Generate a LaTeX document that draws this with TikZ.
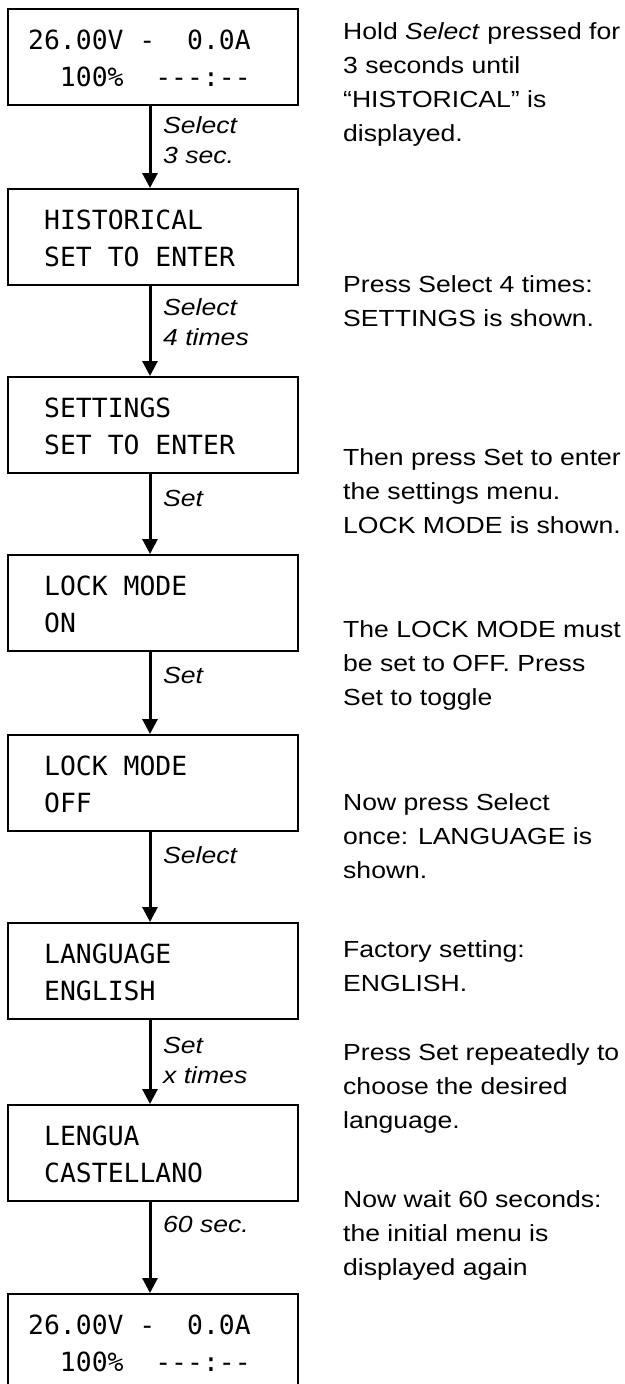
\documentclass[tikz,border=0pt]{standalone}
\usepackage{fontspec}
\setmainfont{Liberation Sans}[FakeStretch=1.14]
\newfontfamily\lcdfont{DejaVu Sans Mono}
\usetikzlibrary{arrows.meta}
\newcommand{\desc}[1]{\parbox[t]{300pt}{\fontsize{23.3}{34}\selectfont\raggedright #1}}
\newcommand{\keytext}[1]{\parbox[t]{130pt}{\itshape\fontsize{23.3}{30}\selectfont\raggedright #1}}
\newcommand{\lcdtext}[1]{\parbox[t]{280pt}{\lcdfont\fontsize{26.4}{37}\selectfont\raggedright #1}}
\begin{document}
\begin{tikzpicture}[x=1pt,y=-1pt,
  screen/.style={draw, line width=1.8pt, minimum width=290pt, minimum height=96pt, inner sep=0pt, anchor=north west},
  txt/.style={anchor=base west, inner sep=0pt},
  flow/.style={line width=3pt, -{Triangle[width=15pt,length=15pt]}}]
\useasboundingbox (0,0) rectangle (624,1384);
\fill[white] (0,0) rectangle (624,1384);
% screens
\node[screen] (b1) at (7,8) {};
\node[screen] (b2) at (7,188) {};
\node[screen] (b3) at (7,376) {};
\node[screen] (b4) at (7,554) {};
\node[screen] (b5) at (7,734) {};
\node[screen] (b6) at (7,922) {};
\node[screen] (b7) at (7,1104) {};
\node[screen] (b8) at (7,1293) {};
% screen texts
\node[txt] (t1) at (28,49) {\lcdtext{26.00V~-~~0.0A\\~~100\%~~{-}{-}{-}:{-}{-}}};
\node[txt] (t2) at (44,229) {\lcdtext{HISTORICAL\\SET~TO~ENTER}};
\node[txt] (t3) at (44,417) {\lcdtext{SETTINGS\\SET~TO~ENTER}};
\node[txt] (t4) at (44,595) {\lcdtext{LOCK~MODE\\ON}};
\node[txt] (t5) at (44,775) {\lcdtext{LOCK~MODE\\OFF}};
\node[txt] (t6) at (44,963) {\lcdtext{LANGUAGE\\ENGLISH}};
\node[txt] (t7) at (44,1145) {\lcdtext{LENGUA\\CASTELLANO}};
\node[txt] (t8) at (28,1334) {\lcdtext{26.00V~-~~0.0A\\~~100\%~~{-}{-}{-}:{-}{-}}};
% arrows
\coordinate (ax) at (150,0);
\draw[flow] (b1.south -| ax) -- (b2.north -| ax);
\draw[flow] (b2.south -| ax) -- (b3.north -| ax);
\draw[flow] (b3.south -| ax) -- (b4.north -| ax);
\draw[flow] (b4.south -| ax) -- (b5.north -| ax);
\draw[flow] (b5.south -| ax) -- (b6.north -| ax);
\draw[flow] (b6.south -| ax) -- (b7.north -| ax);
\draw[flow] (b7.south -| ax) -- (b8.north -| ax);
% arrow labels
\node[txt] (k1) at (163,133) {\keytext{Select\\3 sec.}};
\node[txt] (k2) at (163,315) {\keytext{Select\\4 times}};
\node[txt] (k3) at (163,506) {\keytext{Set}};
\node[txt] (k4) at (163,683) {\keytext{Set}};
\node[txt] (k5) at (163,863) {\keytext{Select}};
\node[txt] (k6) at (163,1053) {\keytext{Set\\x times}};
\node[txt] (k7) at (163,1232) {\keytext{60 sec.}};
% descriptions
\node[txt] (n1) at (343,39) {\desc{Hold \textit{Select} pressed for\\3 seconds until\\“HISTORICAL” is\\displayed.}};
\node[txt] (n2) at (343,292) {\desc{Press Select 4 times:\\SETTINGS is shown.}};
\node[txt] (n3) at (343,465) {\desc{Then press Set to enter\\the settings menu.\\LOCK MODE is shown.}};
\node[txt] (n4) at (343,637) {\desc{The LOCK MODE must\\be set to OFF. Press\\Set to toggle}};
\node[txt] (n5) at (343,810) {\desc{Now press Select\\once: LANGUAGE is\\shown.}};
\node[txt] (n6) at (343,957) {\desc{Factory setting:\\ENGLISH.}};
\node[txt] (n7) at (343,1060) {\desc{Press Set repeatedly to\\choose the desired\\language.}};
\node[txt] (n8) at (343,1207) {\desc{Now wait 60 seconds:\\the initial menu is\\displayed again}};
\end{tikzpicture}
\end{document}
